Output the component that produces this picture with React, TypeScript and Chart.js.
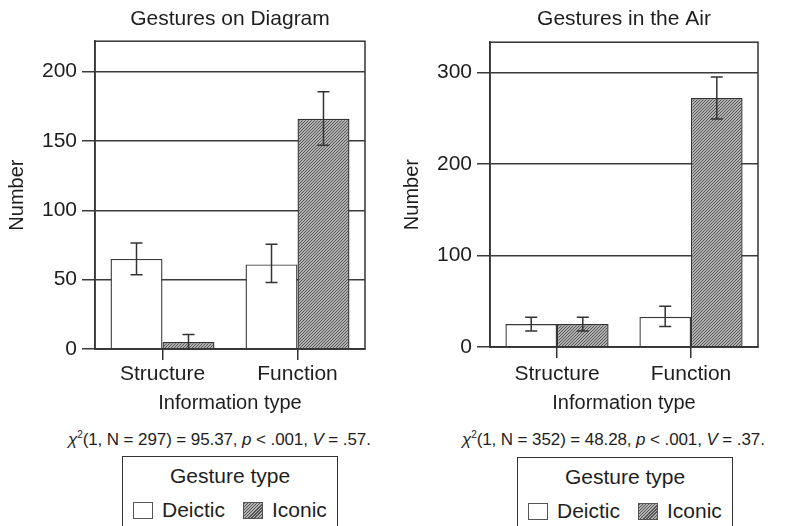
import React, { useEffect, useRef } from "react";
import { Chart, registerables } from "chart.js";
Chart.register(...registerables);

const FONT = "'Liberation Sans', Arial, Helvetica, sans-serif";
const TEXT = "#1e1e1e";

const categories = ["Structure", "Function"];
const seriesNames = ["Deictic", "Iconic"];

// Gestures on Diagram
const diagramDeictic = [65, 61];
const diagramIconic = [5, 166];
const diagramDeicticErr = [
	[53.5, 76.5],
	[48, 75.5],
];
const diagramIconicErr = [
	[0, 10.5],
	[147, 185.5],
];
const diagramTicks = [0, 50, 100, 150, 200];
const diagramMax = 222;
const diagramStats = { n: "297", chi: "95.37", p: ".001", v: ".57" };

// Gestures in the Air
const airDeictic = [25, 33];
const airIconic = [25, 272];
const airDeicticErr = [
	[17.5, 32.5],
	[22.5, 44.5],
];
const airIconicErr = [
	[17.5, 32.5],
	[249, 295],
];
const airTicks = [0, 100, 200, 300];
const airMax = 333;
const airStats = { n: "352", chi: "48.28", p: ".001", v: ".37" };

// fine "////" hatching, 3px period
const makeHatch = (ctx: CanvasRenderingContext2D) => {
	const c = document.createElement("canvas");
	c.width = 3;
	c.height = 3;
	const g = c.getContext("2d")!;
	g.fillStyle = "#b2b2b2";
	g.fillRect(0, 0, 3, 3);
	g.fillStyle = "#555";
	for (let i = 0; i < 3; i++) g.fillRect(i, 2 - i, 1, 1);
	return ctx.createPattern(c, "repeat")!;
};

const framePlugin = {
	id: "frame",
	afterDatasetsDraw(chart: any) {
		const { ctx, chartArea } = chart;
		ctx.save();
		ctx.strokeStyle = "#333";
		ctx.lineWidth = 1.5;
		ctx.strokeRect(chartArea.left, chartArea.top, chartArea.right - chartArea.left, chartArea.bottom - chartArea.top);
		ctx.restore();
	},
};

const errorBarPlugin = {
	id: "errorBars",
	afterDatasetsDraw(chart: any) {
		const { ctx } = chart;
		const y = chart.scales.y;
		chart.data.datasets.forEach((ds: any, i: number) => {
			if (!ds.errorBars) return;
			const meta = chart.getDatasetMeta(i);
			ctx.save();
			ctx.strokeStyle = "#333";
			ctx.lineWidth = 1.5;
			meta.data.forEach((bar: any, j: number) => {
				const [lo, hi] = ds.errorBars[j];
				const yl = y.getPixelForValue(lo);
				const yh = y.getPixelForValue(hi);
				const x = bar.x;
				ctx.beginPath();
				ctx.moveTo(x, yl);
				ctx.lineTo(x, yh);
				ctx.moveTo(x - 6, yl);
				ctx.lineTo(x + 6, yl);
				ctx.moveTo(x - 6, yh);
				ctx.lineTo(x + 6, yh);
				ctx.stroke();
			});
			ctx.restore();
		});
	},
};

interface PanelProps {
	title: string;
	deictic: number[];
	iconic: number[];
	deicticErr: number[][];
	iconicErr: number[][];
	ticks: number[];
	yMax: number;
	left: number;
	width: number;
	height: number;
	titlePad: { top: number; bottom: number };
	xTickPad: number;
	xTitlePad: number;
}

const GesturePanel: React.FC<PanelProps> = (p) => {
	const chartRef = useRef<HTMLCanvasElement | null>(null);

	useEffect(() => {
		if (!chartRef.current) return;
		const ctx = chartRef.current.getContext("2d");
		if (!ctx) return;
		const hatch = makeHatch(ctx);

		const chart = new Chart(ctx, {
			type: "bar",
			data: {
				labels: categories,
				datasets: [
					{
						label: seriesNames[0],
						data: p.deictic,
						backgroundColor: "#ffffff",
						borderColor: "#3a3a3a",
						borderWidth: 1.4,
						categoryPercentage: 0.77,
						barPercentage: 1.0,
						errorBars: p.deicticErr,
					} as any,
					{
						label: seriesNames[1],
						data: p.iconic,
						backgroundColor: hatch,
						borderColor: "#333",
						borderWidth: 1.4,
						categoryPercentage: 0.77,
						barPercentage: 1.0,
						errorBars: p.iconicErr,
					} as any,
				],
			},
			options: {
				animation: false,
				responsive: false,
				layout: { padding: { left: 0, right: 27, top: 0, bottom: 0 } },
				plugins: {
					legend: { display: false },
					tooltip: { enabled: false },
					title: {
						display: true,
						fullSize: false,
						text: p.title,
						color: TEXT,
						font: { family: FONT, size: 21, weight: "normal" },
						padding: p.titlePad,
					},
				},
				scales: {
					x: {
						grid: {
							offset: false,
							drawOnChartArea: false,
							drawTicks: true,
							tickLength: 11,
							color: "#333",
							lineWidth: 1.5,
						},
						border: { display: true, color: "#333", width: 1.5 },
						ticks: { color: TEXT, font: { family: FONT, size: 21 }, padding: p.xTickPad },
						title: {
							display: true,
							text: "Information type",
							color: TEXT,
							font: { family: FONT, size: 20 },
							padding: { top: 4, bottom: p.xTitlePad },
						},
						afterFit: (s: any) => {
							s.height = 70;
						},
					},
					y: {
						min: 0,
						max: p.yMax,
						afterBuildTicks: (s: any) => {
							s.ticks = p.ticks.map((v) => ({ value: v }));
						},
						grid: { color: "#3a3a3a", lineWidth: 1.5, tickLength: 13 },
						border: { display: true, color: "#333", width: 1.5 },
						ticks: { color: TEXT, font: { family: FONT, size: 21 }, padding: 5 },
						title: {
							display: true,
							text: "Number",
							color: TEXT,
							font: { family: FONT, size: 20 },
							padding: { top: 5, bottom: 0 },
						},
						afterFit: (s: any) => {
							s.width = 95;
						},
					},
				},
			} as any,
			plugins: [framePlugin, errorBarPlugin],
		});

		return () => {
			chart.destroy();
		};
	}, [p]);

	return (
		<canvas
			ref={chartRef}
			width={p.width}
			height={p.height}
			style={{ position: "absolute", left: p.left, top: 0, width: p.width, height: p.height }}
		/>
	);
};

const StatsLine: React.FC<{ left: number; stats: { n: string; chi: string; p: string; v: string } }> = ({ left, stats }) => (
	<div
		style={{
			position: "absolute",
			left,
			top: 424,
			fontFamily: FONT,
			fontSize: 17,
			lineHeight: "22px",
			color: TEXT,
			whiteSpace: "nowrap",
			letterSpacing: "-0.1px",
		}}
	>
		<i>χ</i>
		<span style={{ fontSize: 10, verticalAlign: "7px" }}>2</span>(1, N = {stats.n}) = {stats.chi}, <i>p</i> &lt; {stats.p},{" "}
		<i>V</i> = {stats.v}.
	</div>
);

const swatchBase: React.CSSProperties = {
	position: "absolute",
	top: 45,
	width: 20,
	height: 17,
	boxSizing: "border-box",
};

const LegendBox: React.FC<{ left: number; top: number }> = ({ left, top }) => (
	<div
		style={{
			position: "absolute",
			left,
			top,
			width: 216,
			height: 100,
			boxSizing: "border-box",
			border: "1.5px solid #333",
			fontFamily: FONT,
			color: TEXT,
		}}
	>
		<div style={{ position: "absolute", left: 0, right: 0, top: 6, textAlign: "center", fontSize: 21, lineHeight: "26px" }}>
			Gesture type
		</div>
		<div style={{ ...swatchBase, left: 10, background: "#fff", border: "1.5px solid #555" }} />
		<div style={{ position: "absolute", left: 39, top: 40, fontSize: 21, lineHeight: "26px" }}>{seriesNames[0]}</div>
		<div
			style={{
				...swatchBase,
				left: 120,
				border: "1px solid #555",
				background: "repeating-linear-gradient(135deg, #555 0px, #555 1px, #b2b2b2 1px, #b2b2b2 2.2px)",
			}}
		/>
		<div style={{ position: "absolute", left: 149, top: 40, fontSize: 21, lineHeight: "26px" }}>{seriesNames[1]}</div>
	</div>
);

const diagramProps: PanelProps = {
	title: "Gestures on Diagram",
	deictic: diagramDeictic,
	iconic: diagramIconic,
	deicticErr: diagramDeicticErr,
	iconicErr: diagramIconicErr,
	ticks: diagramTicks,
	yMax: diagramMax,
	left: 0,
	width: 392,
	height: 419,
	titlePad: { top: 7, bottom: 9 },
	xTickPad: 2,
	xTitlePad: 4,
};

const airProps: PanelProps = {
	title: "Gestures in the Air",
	deictic: airDeictic,
	iconic: airIconic,
	deicticErr: airDeicticErr,
	iconicErr: airIconicErr,
	ticks: airTicks,
	yMax: airMax,
	left: 395,
	width: 390,
	height: 417,
	titlePad: { top: 7, bottom: 10 },
	xTickPad: 4,
	xTitlePad: 2,
};

export default function App() {
	return (
		<div
			style={{
				position: "fixed",
				left: 0,
				top: 0,
				width: 785,
				height: 526,
				overflow: "hidden",
				background: "#fff",
			}}
		>
			<GesturePanel {...diagramProps} />
			<GesturePanel {...airProps} />
			<StatsLine left={68} stats={diagramStats} />
			<StatsLine left={462} stats={airStats} />
			<LegendBox left={122} top={456} />
			<LegendBox left={517} top={457} />
		</div>
	);
}
